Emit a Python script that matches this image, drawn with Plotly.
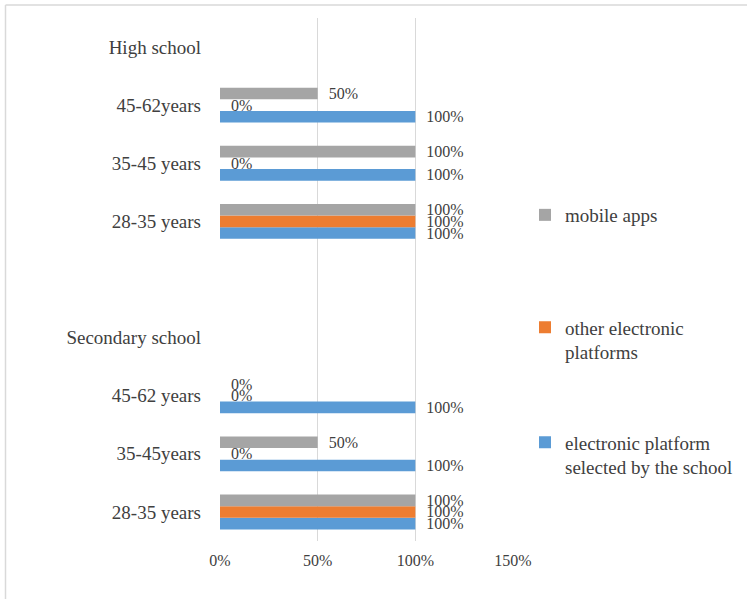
import plotly.graph_objects as go

# Categories, bottom to top (as drawn on the axis)
categories = ["28-35 years", "35-45years", "45-62 years", "Secondary school", "",
              "28-35 years", "35-45 years", "45-62years", "High school"]
positions = list(range(len(categories)))

series_names = ["electronic platform<br>selected by the school",
                "other electronic<br>platforms",
                "mobile apps"]
electronic_platform = [100, 100, 100, None, None, 100, 100, 100, None]
other_platforms = [100, 0, 0, None, None, 100, 0, 0, None]
mobile_apps = [100, 50, 0, None, None, 100, 100, 50, None]
series_values = [electronic_platform, other_platforms, mobile_apps]
series_colors = ["#5B9BD5", "#ED7D31", "#A5A5A5"]
legend_ids = ["legend3", "legend2", "legend"]

x_ticks = [0, 50, 100, 150]
x_ticktext = ["0%", "50%", "100%", "150%"]

FONT = "Liberation Serif"
TXT = "#404040"

fig = go.Figure()
for name, vals, col, lg in zip(series_names, series_values, series_colors, legend_ids):
    fig.add_trace(go.Bar(
        y=positions, x=vals, orientation="h", name=name,
        marker=dict(color=col, line=dict(width=0)),
        texttemplate="\u00a0\u00a0%{x:.0f}%", textposition="outside",
        textfont=dict(family=FONT, size=16, color=TXT),
        constraintext="none", cliponaxis=False,
        legend=lg, hoverinfo="skip",
    ))

# plot area: x 220..513 px, y 18..541 px
W, H = 747, 599
L, R, T, B = 220, 513, 18, 541
pw, ph = R - L, B - T

def px_x(p):
    return (p - L) / pw

def px_y(p):
    return (B - p) / ph

legend_common = dict(font=dict(family=FONT, size=19, color=TXT), bgcolor="rgba(0,0,0,0)",
                     xref="container", yref="container",
                     xanchor="left", yanchor="middle", x=525 / W, valign="top",
                     itemwidth=30)

fig.update_layout(
    width=W, height=H,
    margin=dict(l=L, r=W - R, t=T, b=H - B, pad=0, autoexpand=False),
    paper_bgcolor="white", plot_bgcolor="white",
    barmode="group", bargap=0.4, bargroupgap=0,
    font=dict(family=FONT, color=TXT),
    xaxis=dict(range=[0, 150], tickvals=x_ticks, ticktext=x_ticktext,
               showgrid=True, gridcolor="#D9D9D9", gridwidth=1.3,
               zeroline=False, showline=False, ticks="",
               tickfont=dict(family=FONT, size=16, color=TXT),
               ticklabelstandoff=8, fixedrange=True),
    yaxis=dict(range=[-0.5, len(categories) - 0.5], tickvals=positions, ticktext=categories,
               showgrid=False, zeroline=False, showline=False, ticks="",
               tickfont=dict(family=FONT, size=19, color=TXT),
               ticklabelstandoff=18, fixedrange=True),
    legend=dict(**legend_common, y=1 - 215 / H),
    legend2=dict(**legend_common, y=1 - 340 / H),
    legend3=dict(**legend_common, y=1 - 455 / H),
    showlegend=True,
)

# outer chart border (top and left edges visible)
border = dict(color="#D9D9D9", width=1.5)
fig.add_shape(type="line", xref="paper", yref="paper",
              x0=px_x(5.5), x1=px_x(W + 5), y0=px_y(5), y1=px_y(5), line=border)
fig.add_shape(type="line", xref="paper", yref="paper",
              x0=px_x(5.5), x1=px_x(5.5), y0=px_y(5), y1=px_y(H + 5), line=border)

fig.write_html("out.html")
